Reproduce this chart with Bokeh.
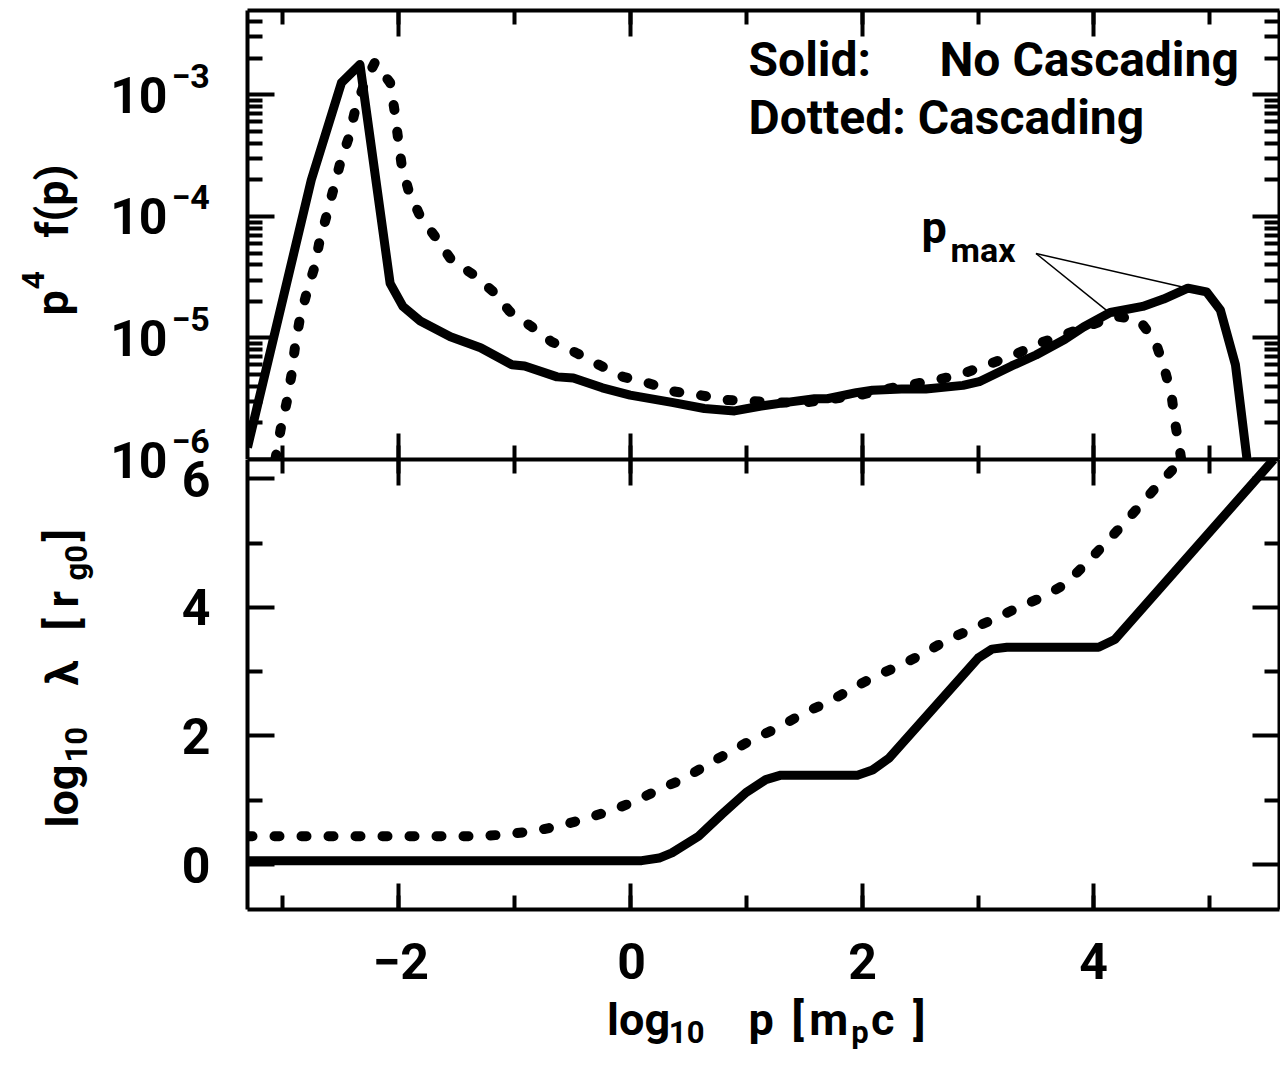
import numpy as np
from bokeh.plotting import figure
from bokeh.layouts import column, row
from bokeh.models import (Range1d, LinearAxis, LogAxis, SingleIntervalTicker,
                          FixedTicker, Label, CustomJSTickFormatter)
from bokeh.embed import file_html
from bokeh.resources import INLINE

# ---------------- data ----------------
# top panel: x = log10 p [m_p c], y = log10 of p^4 f(p)
top_solid_x = [-3.30, -2.75, -2.49, -2.33, -2.07, -1.96, -1.81, -1.55, -1.29, -1.02,
               -0.91, -0.63, -0.49, -0.24, 0.00, 0.36, 0.64, 0.90, 1.13, 1.35,
               1.59, 1.70, 1.95, 2.09, 2.34, 2.55, 2.87, 3.01, 3.29, 3.50,
               3.75, 3.91, 4.14, 4.42, 4.60, 4.81, 4.97, 5.09, 5.22, 5.32]
top_solid_log = [-5.90, -3.70, -2.90, -2.75, -4.55, -4.74, -4.86, -4.99, -5.08, -5.22,
                 -5.23, -5.32, -5.33, -5.41, -5.47, -5.53, -5.58, -5.60, -5.56, -5.53,
                 -5.50, -5.50, -5.45, -5.43, -5.42, -5.42, -5.39, -5.36, -5.23, -5.14,
                 -5.01, -4.91, -4.79, -4.74, -4.68, -4.59, -4.62, -4.77, -5.22, -6.00]

top_dotted_x = [-3.06, -3.01, -2.96, -2.92, -2.89, -2.85, -2.79, -2.72, -2.68, -2.62,
                -2.56, -2.50, -2.43, -2.37, -2.29, -2.20, -2.07, -2.03, -2.00, -1.97,
                -1.91, -1.81, -1.67, -1.54, -1.35, -1.18, -1.04, -0.86, -0.68, -0.47,
                -0.27, -0.06, 0.15, 0.38, 0.60, 0.83, 1.06, 1.29, 1.52, 1.75,
                1.98, 2.21, 2.44, 2.67, 2.88, 3.11, 3.31, 3.54, 3.75, 3.96,
                4.17, 4.39, 4.53, 4.61, 4.67, 4.70, 4.74, 4.76]
top_dotted_log = [-6.00, -5.73, -5.52, -5.30, -5.07, -4.85, -4.63, -4.41, -4.21, -4.00,
                  -3.78, -3.56, -3.36, -3.12, -2.90, -2.73, -2.90, -3.14, -3.37, -3.58,
                  -3.79, -4.00, -4.18, -4.36, -4.48, -4.62, -4.78, -4.90, -5.03, -5.12,
                  -5.22, -5.32, -5.37, -5.44, -5.47, -5.51, -5.52, -5.53, -5.53, -5.50,
                  -5.47, -5.42, -5.38, -5.34, -5.29, -5.21, -5.14, -5.04, -4.97, -4.90,
                  -4.82, -4.85, -5.03, -5.26, -5.48, -5.70, -5.92, -6.05]

# bottom panel: y = log10 lambda [r_g0]
bot_solid_x = [-3.30, 0.10, 0.25, 0.36, 0.59, 0.79, 1.00, 1.17, 1.30, 1.96,
               2.09, 2.23, 3.00, 3.12, 3.25, 4.04, 4.18, 5.55]
bot_solid_y = [0.06, 0.06, 0.10, 0.18, 0.44, 0.78, 1.12, 1.32, 1.39, 1.39,
               1.47, 1.65, 3.21, 3.35, 3.38, 3.38, 3.50, 6.30]

bot_dotted_x = [-3.30, -1.29, -1.06, -0.83, -0.61, -0.39, -0.16, 0.05, 0.25, 0.47,
                0.66, 0.87, 1.07, 1.29, 1.48, 1.71, 1.91, 2.09, 2.32, 2.52,
                2.72, 2.93, 3.15, 3.36, 3.57, 3.76, 3.92, 4.09, 4.25, 4.40,
                4.56, 4.72, 4.78]
bot_dotted_y = [0.44, 0.44, 0.47, 0.52, 0.60, 0.71, 0.84, 0.99, 1.17, 1.34,
                1.55, 1.76, 1.96, 2.14, 2.34, 2.53, 2.73, 2.91, 3.09, 3.27,
                3.48, 3.65, 3.83, 4.01, 4.17, 4.37, 4.66, 4.98, 5.29, 5.59,
                5.92, 6.22, 6.35]

# tick values and labels
top_y_ticks = [1e-6, 1e-5, 1e-4, 1e-3]
top_y_exponents = ["\u22126", "\u22125", "\u22124", "\u22123"]
bot_y_ticks = [0, 2, 4, 6]
x_ticks = [-2, 0, 2, 4]
x_tick_labels = ["\u22122", "0", "2", "4"]

# annotation anchor for the p_max pointer (data coords)
pmax_anchor_x = 3.50
pmax_anchor_log = -4.305

# ---------------- geometry / styling ----------------
FONT = "Roboto"
X_START, X_END = -3.30, 5.60
TOP_Y = (1e-6, 10 ** -2.305)
BOT_Y = (-0.70, 6.30)
LEFT_W = 244          # width of the left text strip
MAIN_W = 1036         # width of the plotting column
FRAME_L, FRAME_R = 247, 1279
TOP_H = 459           # top figure: frame from y=10 to y=459
BOT_H = 453           # bottom figure: frame from 459 to 909
XLAB_H = 156          # tick-label + x-axis title strip
TOTAL_H = TOP_H + BOT_H + XLAB_H
TOP_FRAME = (10, 459)
BOT_FRAME = (459, 909)
CAP = 0.355           # half cap height / font size (text placed by its middle)

top_minor = [m * 10.0 ** k for k in range(-6, -2) for m in range(2, 10)
             if m * 10.0 ** k <= TOP_Y[1]]
EMPTY = "return '';"


def style_axis(ax, major_in, minor_in):
    ax.axis_line_width = 4
    ax.axis_line_color = "black"
    ax.major_tick_in = major_in
    ax.major_tick_out = 0
    ax.minor_tick_in = minor_in
    ax.minor_tick_out = 0
    ax.major_tick_line_width = 4
    ax.minor_tick_line_width = 4
    ax.major_tick_line_color = "black"
    ax.minor_tick_line_color = "black"
    ax.axis_label = None
    ax.formatter = CustomJSTickFormatter(code=EMPTY)
    ax.major_label_text_font_size = "1px"
    ax.major_label_standoff = 0


def blank_fig(w, h, xr, yr):
    f = figure(width=w, height=h, x_range=Range1d(*xr), y_range=Range1d(*yr),
               x_axis_location=None, y_axis_location=None,
               output_backend="svg", toolbar_location=None,
               min_border=0, min_border_left=0, min_border_right=0,
               min_border_top=0, min_border_bottom=0)
    f.grid.visible = False
    f.outline_line_color = None
    f.background_fill_color = "white"
    f.border_fill_color = "white"
    return f


def put(fig, text, px, py, size, angle=0.0, align="left", style="bold"):
    """Place text whose alphabetic baseline starts at page (px, py)."""
    if angle:
        cx, cy = px - CAP * size, py
    else:
        cx, cy = px, py - CAP * size
    fig.add_layout(Label(x=cx, y=-cy, text=text, text_font=FONT,
                         text_font_size=f"{size}px", text_font_style=style,
                         text_color="black", text_align=align,
                         text_baseline="middle", angle=angle))


def put_mid(fig, text, px, py, size, align):
    fig.add_layout(Label(x=px, y=-py, text=text, text_font=FONT,
                         text_font_size=f"{size}px", text_font_style="bold",
                         text_color="black", text_align=align,
                         text_baseline="middle"))


def x_ticker():
    return SingleIntervalTicker(interval=2, num_minor_ticks=2)


def main_fig(h, yr, ytype, top_b, bot_b):
    f = figure(width=MAIN_W, height=h, x_range=Range1d(X_START, X_END),
               y_range=Range1d(*yr), y_axis_type=ytype,
               output_backend="svg", toolbar_location=None,
               min_border_left=FRAME_L - LEFT_W, min_border_right=LEFT_W + MAIN_W - FRAME_R,
               min_border_top=top_b, min_border_bottom=bot_b)
    f.grid.visible = False
    f.outline_line_color = None
    f.background_fill_color = "white"
    f.border_fill_color = "white"
    return f


R = float(np.pi / 2)

# ---------------- top panel ----------------
top = main_fig(TOP_H, TOP_Y, "log", TOP_FRAME[0], 0)
top.yaxis.ticker = FixedTicker(ticks=top_y_ticks, minor_ticks=top_minor)
style_axis(top.yaxis[0], 27, 15)
top.xaxis.ticker = x_ticker()
style_axis(top.xaxis[0], 26, 14)
ax = LinearAxis(ticker=x_ticker())
style_axis(ax, 26, 14)
top.add_layout(ax, "above")
ax = LogAxis(ticker=FixedTicker(ticks=top_y_ticks, minor_ticks=top_minor))
style_axis(ax, 27, 15)
top.add_layout(ax, "right")

top.line(top_solid_x, np.power(10.0, top_solid_log), line_color="black",
         line_width=9, line_join="round")
top.line(top_dotted_x, np.power(10.0, top_dotted_log), line_color="black",
         line_width=10, line_dash="5 22", line_cap="round", line_join="round")

sx = np.array(top_solid_x); sl = np.array(top_solid_log)
dx = np.array(top_dotted_x); dl = np.array(top_dotted_log)
i_s = int(np.argmax(np.where(sx > 3, sl, -99)))
i_d = int(np.argmax(np.where(dx > 3, dl, -99)))
top.segment(x0=[pmax_anchor_x, pmax_anchor_x],
            y0=[10 ** pmax_anchor_log, 10 ** pmax_anchor_log],
            x1=[float(sx[i_s]), float(dx[i_d])],
            y1=[float(10 ** sl[i_s]), float(10 ** dl[i_d])],
            line_color="black", line_width=1.5)


def top_label(text, px, py, size):
    # (px, py): page position of the start of the text's baseline
    top.add_layout(Label(x=X_START, y=TOP_Y[0], x_offset=px - FRAME_L,
                         y_offset=TOP_FRAME[1] - (py - CAP * size),
                         text=text, text_font=FONT, text_font_size=f"{size}px",
                         text_font_style="bold", text_color="black",
                         text_align="left", text_baseline="middle"))


top_label("Solid:", 748, 76, 48)
top_label("No Cascading", 939, 76, 48)
top_label("Dotted: Cascading", 748, 134, 48)
top_label("p", 921, 243, 45)
top_label("max", 950, 262, 34)

# ---------------- bottom panel ----------------
bot = main_fig(BOT_H, BOT_Y, "linear", 0, BOT_H - (BOT_FRAME[1] - BOT_FRAME[0]))
bot.x_range = top.x_range
bot.yaxis.ticker = FixedTicker(ticks=bot_y_ticks, minor_ticks=[1, 3, 5])
style_axis(bot.yaxis[0], 27, 15)
bot.xaxis.ticker = x_ticker()
style_axis(bot.xaxis[0], 26, 14)
ax = LinearAxis(ticker=x_ticker())
style_axis(ax, 26, 14)
bot.add_layout(ax, "above")
ax = LinearAxis(ticker=FixedTicker(ticks=bot_y_ticks, minor_ticks=[1, 3, 5]))
style_axis(ax, 27, 15)
bot.add_layout(ax, "right")

bot.line(bot_solid_x, bot_solid_y, line_color="black", line_width=9, line_join="round")
bot.line(bot_dotted_x, bot_dotted_y, line_color="black", line_width=10,
         line_dash="5 22", line_cap="round", line_join="round")

# ---------------- left text strip: y tick labels and y titles ----------------
left = blank_fig(LEFT_W, TOTAL_H, (0, LEFT_W), (-TOTAL_H, 0))
lt, lb = np.log10(TOP_Y[1]), np.log10(TOP_Y[0])
for t, e in zip(top_y_ticks, top_y_exponents):
    ty = TOP_FRAME[0] + (lt - np.log10(t)) / (lt - lb) * (TOP_FRAME[1] - TOP_FRAME[0])
    put_mid(left, "10", 167, ty, 50, "right")
    put_mid(left, e, 171, ty - 19, 34, "left")
for v in bot_y_ticks:
    vy = BOT_FRAME[0] + (BOT_Y[1] - v) / (BOT_Y[1] - BOT_Y[0]) * (BOT_FRAME[1] - BOT_FRAME[0])
    put_mid(left, str(v), 210, vy, 50, "right")

put(left, "p", 68, 315, 45, angle=R)
put(left, "4", 44, 289, 32, angle=R)
put(left, "f(p)", 68, 237, 45, angle=R)

put(left, "log", 78, 827, 45, angle=R)
put(left, "10", 87, 762, 31, angle=R)
put(left, "\u03bb", 78, 685, 45, angle=R)
put(left, "[", 78, 630, 45, angle=R)
put(left, "r", 78, 607, 45, angle=R)
put(left, "g0", 87, 580, 31, angle=R)
put(left, "]", 78, 541, 45, angle=R)

# ---------------- bottom strip: x tick labels and x-axis title ----------------
xlab = blank_fig(MAIN_W, XLAB_H, (LEFT_W, LEFT_W + MAIN_W),
                 (-TOTAL_H, -(TOP_H + BOT_H)))
for v, s in zip(x_ticks, x_tick_labels):
    vx = FRAME_L + (v - X_START) / (X_END - X_START) * (FRAME_R - FRAME_L)
    put_mid(xlab, s, vx, 960, 50, "center")
put(xlab, "log", 605, 1035, 45)
put(xlab, "10", 667, 1043, 31)
put(xlab, "p", 747, 1035, 45)
put(xlab, "[", 790, 1035, 45)
put(xlab, "m", 808, 1035, 45)
put(xlab, "p", 850, 1043, 31)
put(xlab, "c", 870, 1035, 45)
put(xlab, "]", 912, 1035, 45)

layout = row(left, column(top, bot, xlab, spacing=0), spacing=0)
open("out.html", "w").write(file_html(layout, INLINE))
